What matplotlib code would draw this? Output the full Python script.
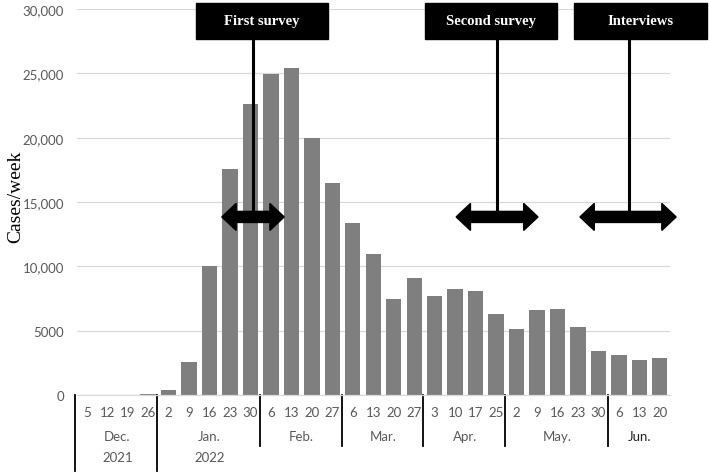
"""Weekly COVID-19 cases with survey / interview periods."""

import matplotlib.pyplot as plt
import matplotlib.transforms as mtransforms
from matplotlib.patches import Polygon, Rectangle
from matplotlib.ticker import FuncFormatter

# weekly data (Dec 2021 - Jun 2022)
days = [5, 12, 19, 26,
        2, 9, 16, 23, 30,
        6, 13, 20, 27,
        6, 13, 20, 27,
        3, 10, 17, 25,
        2, 9, 16, 23, 30,
        6, 13, 20]
cases = [0, 0, 10, 70,
         420, 2570, 10060, 17570, 22630,
         24960, 25430, 20010, 16460,
         13370, 10940, 7470, 9080,
         7720, 8220, 8060, 6300,
         5110, 6630, 6710, 5290, 3420,
         3110, 2720, 2880]
months = ["Dec.", "Jan.", "Feb.", "Mar.", "Apr.", "May.", "Jun."]
month_weeks = [4, 5, 4, 4, 4, 5, 3]
years = ["2021", "2022"]

# periods as week indices: (label, box start, box end, marker, arrow start, arrow end)
periods = [
    ("First survey", 5.35, 11.8, 8.1, 6.6, 9.65),
    ("Second survey", 16.55, 23.0, 20.05, 18.05, 22.05),
    ("Interviews", 23.8, 30.3, 26.5, 24.1, 28.8),
]

SANS = "Lato"
SERIF = "Liberation Serif"
GREY_TXT = "#595959"
FS = 9.5

fig = plt.figure(figsize=(7.09, 4.77), dpi=100)
ax = fig.add_axes([76.5 / 709, 1 - 396 / 477, (670 - 76.5) / 709, 386 / 477])

x = list(range(len(cases)))
ax.bar(x, cases, width=0.75, color="#7f7f7f", zorder=2)
ax.set_xlim(-0.5, len(cases) - 0.5)
ax.set_ylim(0, 30000)
ax.set_yticks(range(0, 30001, 5000))
ax.yaxis.set_major_formatter(FuncFormatter(lambda v, _: "0" if v == 0 else ("5000" if v == 5000 else f"{int(v):,}")))
ax.tick_params(axis="y", length=0, pad=9, labelsize=FS, labelcolor=GREY_TXT)
for lab in ax.get_yticklabels():
    lab.set_fontfamily(SANS)
ax.set_xticks([])
ax.grid(axis="y", color="#d9d9d9", lw=0.9, zorder=0)
for s in ["top", "right", "left"]:
    ax.spines[s].set_visible(False)
ax.spines["bottom"].set_color("#d9d9d9")
ax.spines["bottom"].set_linewidth(0.9)

fig.text(16 / 709, 1 - 197 / 477, "Cases/week", rotation=90, va="center", ha="center",
         fontsize=14, family=SERIF)

# multi-level category axis
trans = mtransforms.blended_transform_factory(ax.transData, ax.transAxes)
for i, d in enumerate(days):
    ax.text(i, -0.044, str(d), transform=trans, ha="center", va="center",
            fontsize=FS, color=GREY_TXT, family=SANS)
start = 0
for k, (m, n) in enumerate(zip(months, month_weeks)):
    ax.text(start + (n - 1) / 2, -0.106, m, transform=trans, ha="center", va="center",
            fontsize=FS, color="#222222" if m == "Jun." else GREY_TXT, family=SANS)
    if k < len(years):
        ax.text(start + (n - 1) / 2, -0.161, years[k], transform=trans, ha="center",
                va="center", fontsize=FS, color=GREY_TXT, family=SANS)
    low = -0.197 if k <= 1 else -0.131
    ax.plot([start - 0.55, start - 0.55], [0, low], transform=trans, color="black",
            lw=1.3, clip_on=False)
    start += n

# survey periods
head_len, shaft, head = 0.7, 430, 1050
y_arrow = 13840
for label, b0, b1, xm, a0, a1 in periods:
    ax.add_patch(Rectangle((b0, 27680), b1 - b0, 2800, color="black", clip_on=False, zorder=5))
    ax.text((b0 + b1) / 2, 29080, label, ha="center", va="center", color="white",
            fontsize=10.5, fontweight="bold", family=SERIF, zorder=6, clip_on=False)
    ax.plot([xm, xm], [27680, y_arrow], color="black", lw=2.2, zorder=5, clip_on=False)
    pts = [(a0, y_arrow), (a0 + head_len, y_arrow + head), (a0 + head_len, y_arrow + shaft),
           (a1 - head_len, y_arrow + shaft), (a1 - head_len, y_arrow + head), (a1, y_arrow),
           (a1 - head_len, y_arrow - head), (a1 - head_len, y_arrow - shaft),
           (a0 + head_len, y_arrow - shaft), (a0 + head_len, y_arrow - head)]
    ax.add_patch(Polygon(pts, closed=True, color="black", zorder=5, clip_on=False))

fig.savefig("out.png", dpi=100)
